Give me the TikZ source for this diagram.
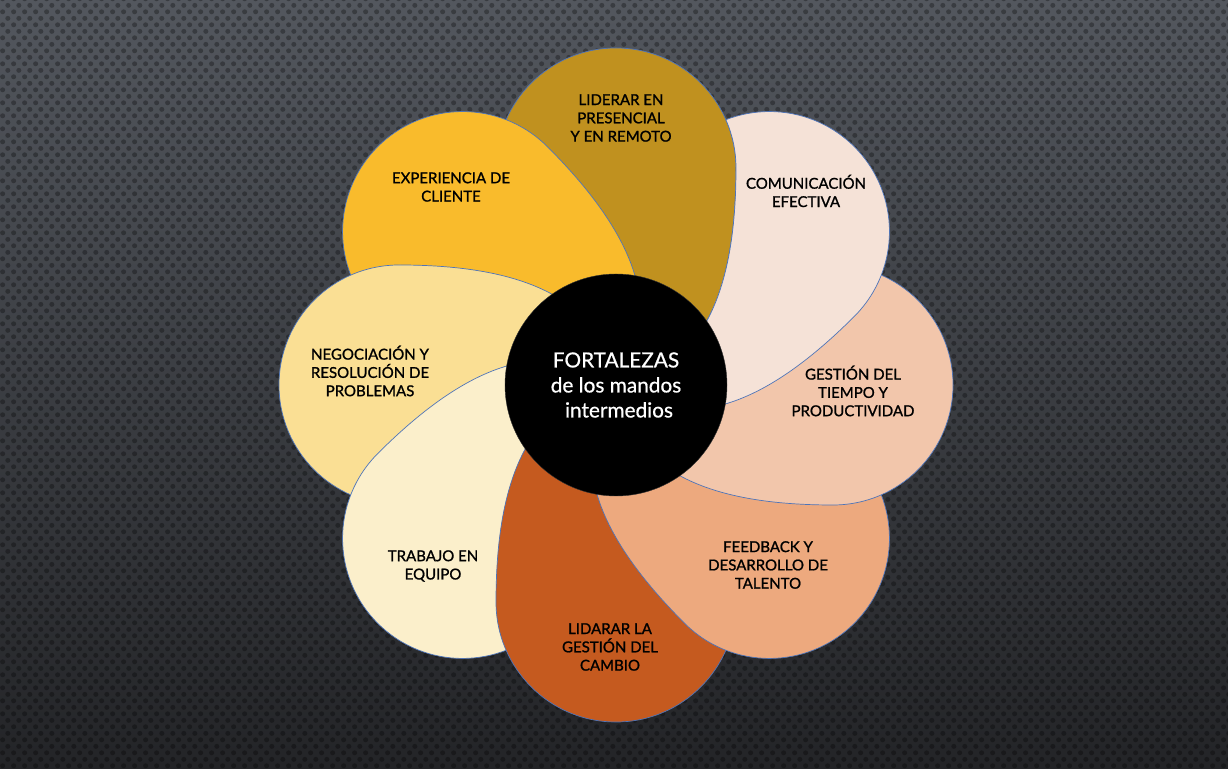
\documentclass[tikz,border=0pt]{standalone}
\usepackage{fontspec}
\setmainfont{Lato}
\newfontfamily\petalfont{Lato}[FakeBold=1.2]
\newfontfamily\centerfont{Lato}[FakeBold=0.6]
\usepackage{tikz}
\usetikzlibrary{patterns.meta}

\definecolor{bgtop}{HTML}{53575E}
\definecolor{bgbottom}{HTML}{232427}
\definecolor{petalline}{HTML}{4E74B8}
\definecolor{liderarfill}{HTML}{C0911F}
\definecolor{experienciafill}{HTML}{F9BB2C}
\definecolor{negociacionfill}{HTML}{FADF94}
\definecolor{trabajofill}{HTML}{FBEFCB}
\definecolor{cambiofill}{HTML}{C55A1F}
\definecolor{feedbackfill}{HTML}{EDA97E}
\definecolor{gestionfill}{HTML}{F2C6AB}
\definecolor{comunicacionfill}{HTML}{F5E2D7}

\pgfdeclarepattern{
  name=bgdots, type=uncolored,
  bottom left={\pgfpoint{0pt}{0pt}}, top right={\pgfpoint{10.7pt}{13.4pt}},
  tile size={\pgfpoint{10.7pt}{13.4pt}},
  code={
    \pgfpathcircle{\pgfpoint{2.7pt}{3.35pt}}{2.6pt}
    \pgfpathcircle{\pgfpoint{8.05pt}{10.05pt}}{2.6pt}
    \pgfusepath{fill}
  }
}

\newcommand\petalpath{(0,0) .. controls (100,15) and (120,120) .. (120,217)
  arc[start angle=0, end angle=180, radius=120]
  .. controls (-120,120) and (-100,15) .. (0,0) -- cycle}

\begin{document}
\begin{tikzpicture}[x=1pt, y=1pt,
  petal/.style={draw=petalline, line width=0.7pt},
  petaltext/.style={align=center, inner sep=0pt, text=black,
    font=\petalfont\fontsize{15}{18.3}\selectfont}]
% background
\fill[top color=bgtop, bottom color=bgbottom] (0,0) rectangle (1228,768);
\fill[pattern=bgdots, pattern color=black, fill opacity=0.3] (0,0) rectangle (1228,768);

% petals, each one over the one before
\begin{scope}[shift={(616,383)}]
\fill[petal, fill=liderarfill] \petalpath;
\fill[petal, fill=experienciafill, rotate=45] \petalpath;
\fill[petal, fill=negociacionfill, rotate=90] \petalpath;
\fill[petal, fill=trabajofill, rotate=135] \petalpath;
\fill[petal, fill=cambiofill, rotate=180] \petalpath;
\fill[petal, fill=feedbackfill, rotate=-135] \petalpath;
\end{scope}
% the last two go under the first one
\begin{scope}[shift={(616,383)}, even odd rule]
\clip (-616,-383) rectangle (612,385) \petalpath;
\fill[petal, fill=gestionfill, rotate=-90] \petalpath;
\fill[petal, fill=comunicacionfill, rotate=-45] \petalpath;
\end{scope}
\begin{scope}[shift={(616,383)}]
\clip[rotate=-45] \petalpath;
\draw[petal] \petalpath;
\end{scope}

\node (fortalezas) [circle, fill=black, draw=black!80, minimum size=222pt, inner sep=0pt,
  text=white, align=center, font=\centerfont\fontsize{20.8}{25}\selectfont] at (616,383)
  {FORTALEZAS\\de los mandos\\\hspace{6pt}intermedios};

\node (liderar) [petaltext] at (621,650) {LIDERAR EN\\PRESENCIAL\\Y EN REMOTO};
\node (comunicacion) [petaltext] at (806,577) {COMUNICACIÓN\\EFECTIVA};
\node (gestion) [petaltext] at (853,377) {GESTIÓN DEL\\TIEMPO Y\\PRODUCTIVIDAD};
\node (feedback) [petaltext] at (768,203) {FEEDBACK Y\\DESARROLLO DE\\TALENTO};
\node (cambio) [petaltext] at (610,121) {LIDARAR LA\\GESTIÓN DEL\\CAMBIO};
\node (trabajo) [petaltext] at (433,202) {TRABAJO EN\\EQUIPO};
\node (negociacion) [petaltext] at (370,397) {NEGOCIACIÓN Y\\RESOLUCIÓN DE\\PROBLEMAS};
\node (experiencia) [petaltext] at (451,581) {EXPERIENCIA DE\\CLIENTE};
\end{tikzpicture}
\end{document}
